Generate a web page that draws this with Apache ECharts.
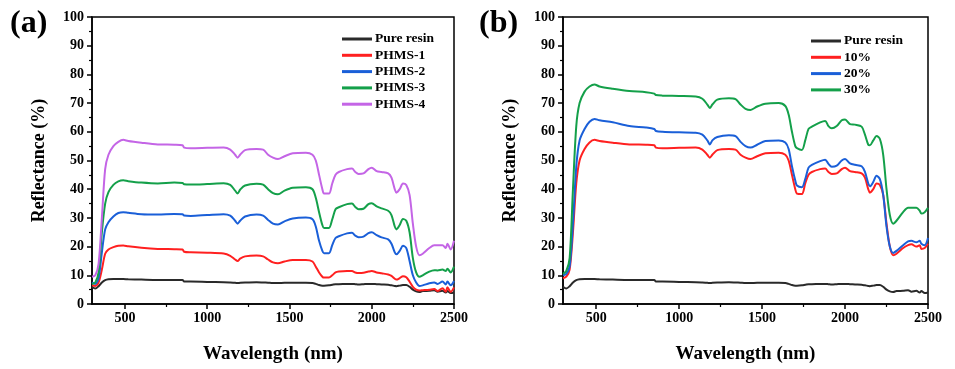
<!DOCTYPE html>
<html><head><meta charset="utf-8">
<script src="https://cdn.jsdelivr.net/npm/echarts@6/dist/echarts.min.js"></script>
<style>html,body{margin:0;padding:0;background:#fff}#c{width:955px;height:369px}</style>
</head><body><div id="c"></div>
<script>
const wavelength = [300,320,340,360,380,400,430,460,490,520,600,700,800,850,860,900,1000,1100,1140,1170,1185,1200,1230,1300,1340,1370,1400,1430,1470,1520,1600,1640,1660,1680,1700,1710,1740,1760,1780,1800,1850,1880,1900,1920,1950,1980,2000,2030,2060,2100,2120,2140,2150,2170,2190,2210,2230,2250,2270,2290,2310,2350,2380,2400,2430,2450,2460,2480,2500];

const pureResin = [6,5.4,6.2,7.5,8.3,8.6,8.7,8.7,8.7,8.6,8.5,8.4,8.4,8.4,7.8,7.8,7.7,7.6,7.5,7.4,7.3,7.4,7.5,7.6,7.5,7.4,7.3,7.3,7.4,7.4,7.4,7.3,7,6.6,6.4,6.4,6.5,6.7,6.9,6.9,7,7,6.9,6.8,6.9,7,7,6.9,6.8,6.7,6.5,6.3,6.2,6.4,6.6,6.6,6,5,4.4,4.2,4.5,4.6,4.8,4.3,4.6,4,4.5,3.8,4];
const phms1 = [6.5,6.3,7.5,12,17.5,19,19.8,20.3,20.4,20.1,19.6,19.2,19.1,19,18.2,18,17.9,17.6,16.8,15.5,15,15.8,16.6,16.9,16.6,15.5,14.5,14.2,14.8,15.3,15.3,14.8,13,11,9.5,9.2,9.2,10,11,11.3,11.5,11.5,11,10.8,10.9,11.3,11.5,11,10.7,10.3,9.8,8.8,8.5,9,9.7,9.3,7.8,6,5,4.7,4.8,5,5.2,4.5,5.5,4.3,5.8,4.2,5.8];
const phms2 = [7.5,7,9,18,26,28.5,30.5,31.7,32,31.8,31.3,31.2,31.4,31.3,30.8,30.7,31,31.3,30.8,29,28,29,30.5,31.2,30.8,29.3,28,27.7,28.8,29.8,30.1,29.5,27,22,18.5,17.7,17.7,20.5,23,23.6,24.6,24.8,23.8,23.3,23.5,24.7,25,24,23.2,22.5,21,18,17.3,18.5,20.3,19.5,15,10,7.5,6.3,6.5,7.2,7.5,7,7.8,6.8,7.8,6.5,8];
const phms3 = [7,7.5,11,25,35,39,41.5,42.7,43.1,42.8,42.3,42,42.3,42.2,41.7,41.6,41.8,42.1,41.5,39.5,38.5,39.8,41.3,41.9,41.6,40,38.6,38.2,39.5,40.5,40.7,40,37,32,27.5,26.5,26.5,29.5,33,33.7,34.8,35,33.8,33,33.2,34.8,35.1,34,33.3,32.5,31,27,26,27.5,29.6,29,25,16,11,9.5,10,11.3,11.8,11.7,12,11.5,12.3,11,13];
const phms4 = [9.5,10,14,30,47,52,55,56.5,57.2,56.8,56.2,55.6,55.5,55.3,54.5,54.3,54.4,54.5,53.8,52,51,52,53.6,54,53.8,52,51,50.5,51.5,52.5,52.7,52,50,45,40,38.5,38.5,42,45,46,47,47.2,46,45.3,45.5,47,47.5,46.3,46,45.5,44,40,38.8,40,42,41.5,38,28,20,17,17.5,19.5,20.5,20.5,20.5,19.5,21,19,22];

const pct10 = [9,9.5,12,25,42,50,54,56.3,57.2,56.8,56.2,55.6,55.5,55.3,54.5,54.3,54.4,54.5,53.8,52,51,52,53.6,54,53.8,52,51,50.5,51.5,52.5,52.7,52,50,45,40,38.5,38.3,42,45,46,47,47.2,46,45.3,45.5,47,47.5,46.3,46,45.5,44,40,38.8,40,42,41.5,38,28,20,17,17.5,19.5,20.5,20.8,20,20.5,19.2,19.5,21];
const pct20 = [10,10.5,13,28,48,57,61,63.5,64.5,64,63.3,62,61.5,61,60.3,60,59.8,59.7,59,57,55.6,57,58.2,58.8,58.5,56.5,55,54.5,55.5,56.8,57,56.3,54,48,43,41.3,40.7,43.5,47.5,48.5,49.8,50.3,48.8,47.8,48.2,50,50.5,49,48.5,48,46,42,41,42.5,44.7,43.5,38,27,20,17.8,18.5,20.5,21.8,22,21.5,22,21,20.5,23];
const pct30 = [10.5,11.5,16,40,62,70,74,75.8,76.5,75.8,75,74.2,73.8,73.3,72.8,72.6,72.5,72.3,71.5,69.5,68.3,69.5,71.2,71.7,71.4,69.5,68,67.6,68.8,69.8,70,69,66,60,55,54.3,53.7,57,61,61.8,63.3,63.8,62,61.2,62,64,64.3,62.7,62.5,61.8,59,55.5,55.3,57,58.5,57.5,52,40,31,28,29,32,33.5,33.5,33.5,32.5,31.5,32,33.5];

const xMajorTicks = [500,1000,1500,2000,2500];
const xMinorTicks = [750,1250,1750,2250];

const FONT = '"Liberation Serif","Times New Roman",serif';
const pair = v => wavelength.map((w,i)=>[w,v[i]]);
const COL = {black:'#2a2a2a', red:'#ff2020', blue:'#1a5fd8', green:'#14a04a', purple:'#c465e6'};

function xAxisMajor(gi){
  return {type:'value', gridIndex:gi, position:'bottom', min:300, max:2500,
    name:'Wavelength (nm)', nameLocation:'middle', nameGap:41,
    nameTextStyle:{fontFamily:FONT, fontWeight:'bold', fontSize:19, color:'#000'},
    axisLine:{show:true, onZero:false, lineStyle:{color:'#000', width:1.5}},
    axisTick:{show:true, inside:false, length:5, customValues:xMajorTicks, lineStyle:{color:'#000', width:1.5}},
    splitLine:{show:false},
    axisLabel:{fontFamily:FONT, fontWeight:'bold', fontSize:14, color:'#000', margin:7, customValues:xMajorTicks,
      formatter: v => String(v)}
  };
}
function xAxisMinor(gi){
  return {type:'value', gridIndex:gi, position:'bottom', min:300, max:2500,
    axisLine:{show:false, onZero:false},
    axisTick:{show:true, inside:false, length:3, customValues:xMinorTicks, lineStyle:{color:'#000', width:1.2}},
    splitLine:{show:false},
    axisLabel:{show:false}
  };
}
function yAxis(gi){
  return {type:'value', gridIndex:gi, min:0, max:100, interval:10,
    name:'Reflectance (%)', nameLocation:'middle', nameGap:44,
    nameTextStyle:{fontFamily:FONT, fontWeight:'bold', fontSize:18, color:'#000'},
    axisLine:{show:true, onZero:false, lineStyle:{color:'#000', width:1.5}},
    axisTick:{show:true, inside:false, length:5, lineStyle:{color:'#000', width:1.5}},
    minorTick:{show:true, splitNumber:2, length:3, lineStyle:{color:'#000', width:1.2}},
    splitLine:{show:false},
    axisLabel:{fontFamily:FONT, fontWeight:'bold', fontSize:14, color:'#000', margin:8}
  };
}
function line(name, data, color, gi){
  return {type:'line', name, xAxisIndex:gi*2, yAxisIndex:gi, data:pair(data), showSymbol:false,
    symbol:'none', smooth:0.3, lineStyle:{color, width:2}, itemStyle:{color}, animation:false};
}
function legend(names, left, top){
  return {data:names.map(n=>({name:n, icon:'rect'})), orient:'vertical', left, top,
    itemWidth:30, itemHeight:3, itemGap:2.3,
    textStyle:{fontFamily:FONT, fontWeight:'bold', fontSize:13.5, color:'#000', lineHeight:14, padding:[0,0,0,-2]},
    selectedMode:false};
}

const chart = echarts.init(document.getElementById('c'), null, {renderer:'canvas'});
chart.setOption({
  backgroundColor:'#fff',
  animation:false,
  title:[
    {text:'(a)', left:5, top:3, textStyle:{fontFamily:FONT, fontWeight:'bold', fontSize:32, color:'#000'}},
    {text:'(b)', left:474, top:3, textStyle:{fontFamily:FONT, fontWeight:'bold', fontSize:32, color:'#000'}}
  ],
  grid:[
    {left:92, right:501, top:17, bottom:59, show:true, borderColor:'#000', borderWidth:1.5, backgroundColor:'transparent'},
    {left:563, right:27, top:17, bottom:59, show:true, borderColor:'#000', borderWidth:1.5, backgroundColor:'transparent'}
  ],
  xAxis:[xAxisMajor(0), xAxisMinor(0), xAxisMajor(1), xAxisMinor(1)],
  yAxis:[yAxis(0), yAxis(1)],
  legend:[
    legend(['Pure resin','PHMS-1','PHMS-2','PHMS-3','PHMS-4'], 337, 27),
    legend(['Pure resin ','10%','20%','30%'], 806, 29)
  ],
  series:[
    line('Pure resin', pureResin, COL.black, 0),
    line('PHMS-1', phms1, COL.red, 0),
    line('PHMS-2', phms2, COL.blue, 0),
    line('PHMS-3', phms3, COL.green, 0),
    line('PHMS-4', phms4, COL.purple, 0),
    line('Pure resin ', pureResin, COL.black, 1),
    line('10%', pct10, COL.red, 1),
    line('20%', pct20, COL.blue, 1),
    line('30%', pct30, COL.green, 1)
  ]
});
</script></body></html>
